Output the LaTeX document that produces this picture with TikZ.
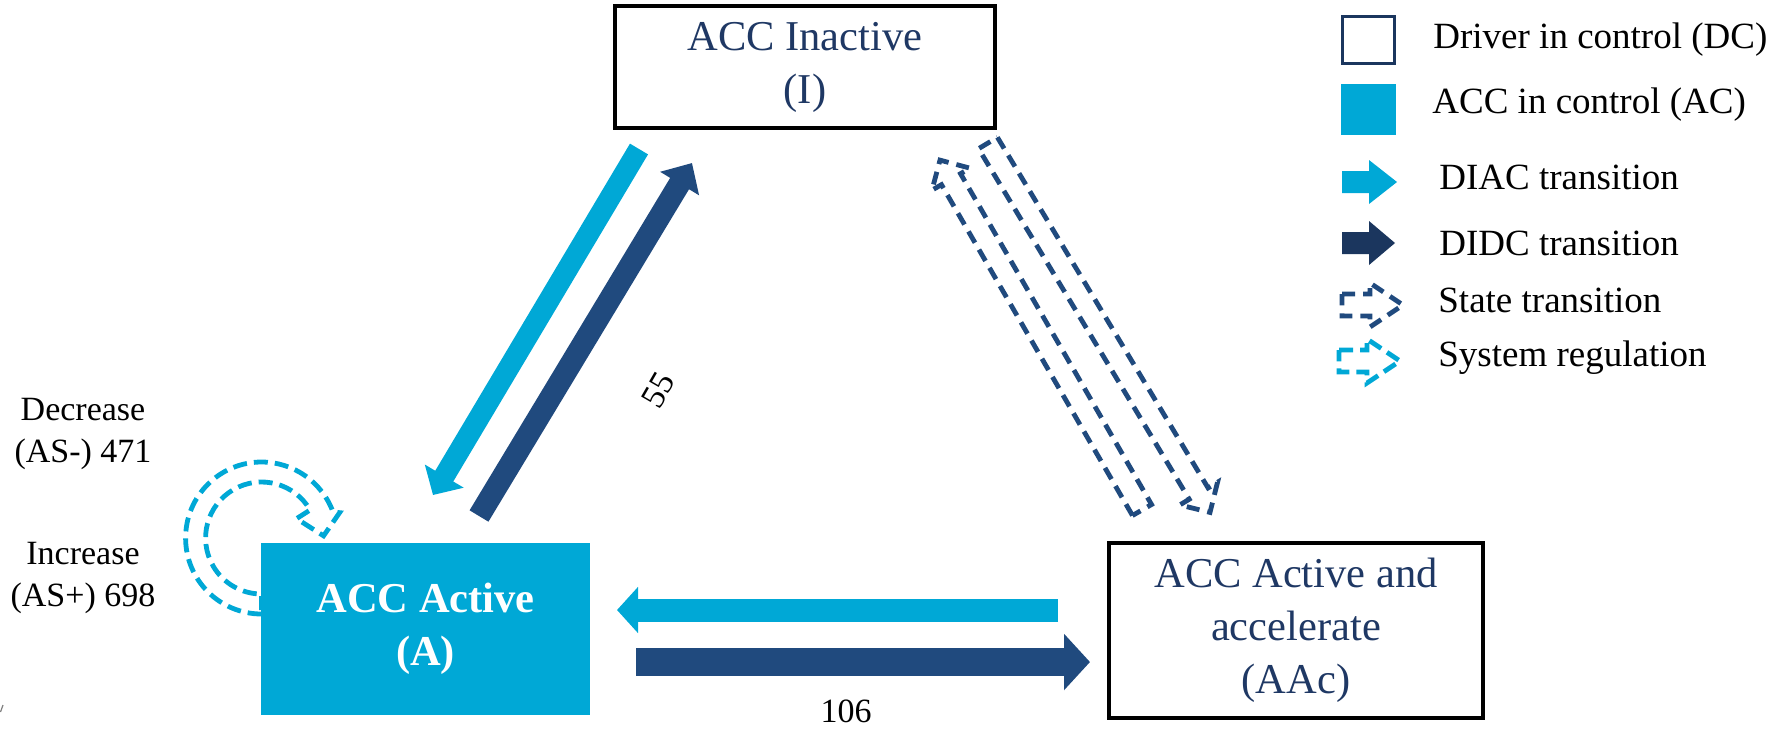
\documentclass[tikz,border=0pt]{standalone}
\usepackage{fontspec}
\setmainfont{Liberation Serif}
\usetikzlibrary{arrows.meta,calc}

\definecolor{accyan}{RGB}{0,168,214}
\definecolor{accnavy}{RGB}{32,74,126}
\definecolor{legnavy}{RGB}{27,54,94}
\definecolor{textnavy}{RGB}{31,56,100}

\tikzset{
  statebox/.style={draw=black, line width=2pt, align=center, text=textnavy,
    font=\fontsize{21.25}{26.5}\selectfont},
  accbox/.style={fill=accyan, align=center, text=white,
    font=\bfseries\fontsize{21.25}{26.5}\selectfont},
  numtext/.style={align=center, inner sep=0pt, font=\fontsize{17}{21}\selectfont},
  legtext/.style={anchor=west, inner sep=0pt, font=\fontsize{18.5}{22}\selectfont},
  fatarrow/.style n args={3}{line width=#1, -{Triangle[width=#2, length=#3]}},
  statedash/.style={draw=accnavy, line width=2.4pt, dash pattern=on 6.5pt off 4pt},
  regdash/.style={draw=accyan, line width=2.4pt, dash pattern=on 7pt off 3.5pt},
  pics/hollow/.style n args={2}{code={
    \path[pic actions] (0,-11) -- (#1-#2,-11) -- (#1-#2,-22) -- (#1,0)
      -- (#1-#2,22) -- (#1-#2,11) -- (0,11) -- cycle;
  }},
}

\begin{document}
\begin{tikzpicture}[x=0.5pt, y=-0.5pt]
\useasboundingbox (0,0) rectangle (1783,730);

\node[statebox, minimum width=190pt, minimum height=61pt] (I) at (805,67) {ACC Inactive\\(I)};
\node[accbox, minimum width=164.5pt, minimum height=86pt] (A) at (425.5,629) {ACC Active\\(A)};
\node[statebox, minimum width=187pt, minimum height=87.5pt] (AAc) at (1296,630.5) {ACC Active and\\accelerate\\(AAc)};

\coordinate (ia1) at (639,149);
\coordinate (ia2) at (433,495);
\coordinate (ai1) at (479,516);
\coordinate (ai2) at (692,163);
\coordinate (ca1) at (1058,610);
\coordinate (ca2) at (617,610);
\coordinate (ac1) at (636,662);
\coordinate (ac2) at (1090,662);
\draw[accyan, fatarrow={10.5pt}{22pt}{11pt}] (ia1) -- (ia2);
\draw[accnavy, fatarrow={11pt}{22pt}{12pt}] (ai1) -- (ai2);
\draw[accyan, fatarrow={11.5pt}{22.5pt}{10.5pt}] (ca1) -- (ca2);
\draw[accnavy, fatarrow={14pt}{27.5pt}{13pt}] (ac1) -- (ac2);

\coordinate (st1) at (1142,510);
\coordinate (st2) at (988,143);
\pic[statedash, rotate=120] at (st1) {hollow={404}{22}};
\pic[statedash, rotate=-59] at (st2) {hollow={431}{22}};

\coordinate (lc) at ($(A.west)+(1,-91)$);
\path[regdash] ($(lc)+(90:76)$) arc[start angle=90, end angle=340, radius=76]
  -- ($(lc)+(342:82)$) -- ($(lc)+(358:62)$) -- ($(lc)+(331:40)$)
  -- ($(lc)+(330:56)$) arc[start angle=330, end angle=90, radius=56] -- cycle;

\node[numtext] (dec) at (83,434) {Decrease\\(AS-) 471};
\node[numtext] (inc) at (83,578) {Increase\\(AS+) 698};
\node[numtext, rotate=60] (n55) at (658,390) {55};
\node[numtext] (n106) at (846,711) {106};
\draw[line width=0.6pt, gray] (0.5,712) -- (3,705);

\node[draw=legnavy, line width=1.5pt, inner sep=0pt, minimum width=26pt, minimum height=23.5pt] (dcbox) at (1368.5,40) {};
\node[fill=accyan, inner sep=0pt, minimum width=27.5pt, minimum height=25.5pt] (acbox) at (1368.5,109.5) {};
\pic[fill=accyan] at (1342,182) {hollow={55}{28}};
\pic[fill=legnavy] at (1342,243) {hollow={53}{26}};
\pic[statedash] at (1342,305) {hollow={61}{33}};
\pic[regdash] at (1339,361) {hollow={61}{33}};
\node[legtext] (dct) at (1433,40) {Driver in control (DC)};
\node[legtext] (act) at (1432,105) {ACC in control (AC)};
\node[legtext] (diac) at (1439,177) {DIAC transition};
\node[legtext] (didc) at (1439,243) {DIDC transition};
\node[legtext] (stt) at (1438,300) {State transition};
\node[legtext] (sysr) at (1438,358) {System regulation};
\end{tikzpicture}
\end{document}
